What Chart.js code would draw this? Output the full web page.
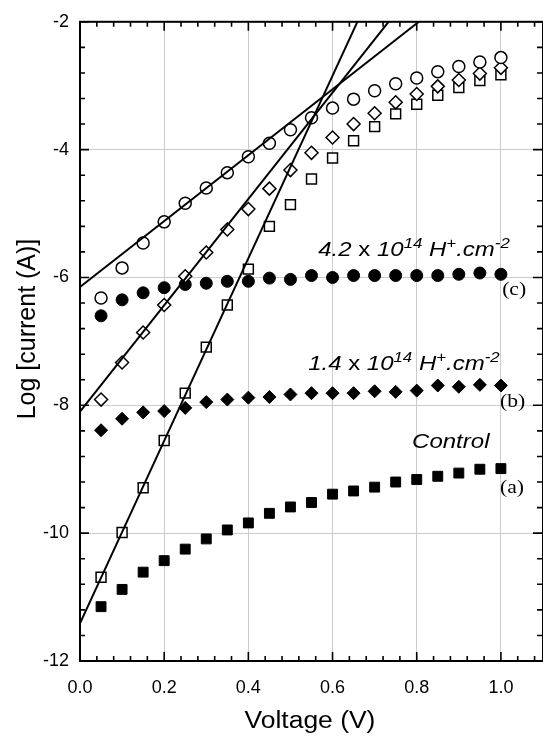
<!DOCTYPE html>
<html>
<head>
<meta charset="utf-8">
<script src="https://cdn.jsdelivr.net/npm/chart.js@4.4.0/dist/chart.umd.min.js"></script>
<style>
  html, body { margin: 0; padding: 0; background: #fff; }
</style>
</head>
<body>
<canvas id="ivCanvas" width="543" height="737"></canvas>
<script>
// Voltage sweep (V)
const voltage = [0.05, 0.10, 0.15, 0.20, 0.25, 0.30, 0.35, 0.40, 0.45, 0.50,
                 0.55, 0.60, 0.65, 0.70, 0.75, 0.80, 0.85, 0.90, 0.95, 1.00];

// Log current, open markers
const openCircle  = [-6.32, -5.85, -5.46, -5.13, -4.84, -4.60, -4.36, -4.11, -3.90, -3.69,
                     -3.50, -3.35, -3.21, -3.08, -2.97, -2.88, -2.78, -2.70, -2.63, -2.56];
const openDiamond = [-7.91, -7.33, -6.86, -6.43, -5.98, -5.61, -5.25, -4.93, -4.61, -4.32,
                     -4.05, -3.81, -3.60, -3.43, -3.26, -3.13, -3.01, -2.91, -2.81, -2.72];
const openSquare  = [-10.69, -9.99, -9.29, -8.55, -7.81, -7.09, -6.43, -5.87, -5.20, -4.86,
                     -4.46, -4.13, -3.86, -3.64, -3.44, -3.29, -3.15, -3.03, -2.92, -2.83];

// Log current, filled markers
const dose42 = [-6.60, -6.35, -6.24, -6.16, -6.11, -6.09, -6.06, -6.06, -6.01, -6.03,
                -5.97, -6.00, -5.97, -5.97, -5.97, -5.97, -5.97, -5.95, -5.93, -5.95];
const dose14 = [-8.39, -8.21, -8.11, -8.09, -8.04, -7.95, -7.91, -7.88, -7.87, -7.83,
                -7.81, -7.81, -7.81, -7.78, -7.79, -7.77, -7.69, -7.71, -7.68, -7.69];
const control = [-11.15, -10.88, -10.61, -10.43, -10.25, -10.09, -9.95, -9.84, -9.69, -9.59,
                 -9.52, -9.39, -9.34, -9.28, -9.20, -9.16, -9.11, -9.06, -9.00, -8.99];

// Fitted straight lines (end points)
const fitCircle  = [[0, -6.15], [0.805, -2]];
const fitDiamond = [[0, -8.10], [0.733, -2]];
const fitSquare  = [[0, -11.41], [0.659, -2]];

// Axis ticks
const xTickStep = 0.2, xMinorStep = 0.04;
const yTickStep = 2, yMinorStep = 0.4;

// Annotation labels: [x, y, pieces]
const labels = [
  [0.566, -5.66, [['4.2 ', 'i'], ['x', 'n'], [' 10', 'i'], ['14', 's'], [' H', 'i'], ['+', 's'], ['.cm', 'i'], ['-2', 's']]],
  [0.542, -7.45, [['1.4 ', 'i'], ['x', 'n'], [' 10', 'i'], ['14', 's'], [' H', 'i'], ['+', 's'], ['.cm', 'i'], ['-2', 's']]],
  [0.789, -8.66, [['Control', 'i']]],
  [1.003, -6.28, [['(c)', 'r']]],
  [0.998, -8.03, [['(b)', 'r']]],
  [0.998, -9.375, [['(a)', 'r']]]
];

function pts(ys) {
  return voltage.map((v, i) => ({ x: v, y: ys[i] }));
}
function linePts(seg) {
  return seg.map(p => ({ x: p[0], y: p[1] }));
}

// the text in the original is a bit wide, so stretch it sideways
const STRETCH = 1.2;

// frame, inward ticks on all four sides, titles and text labels
const framePlugin = {
  id: 'frame',
  afterDatasetsDraw(chart) {
    const ctx = chart.ctx;
    const a = chart.chartArea;
    const xs = chart.scales.x, ys = chart.scales.y;
    ctx.save();
    ctx.strokeStyle = '#000';
    ctx.lineWidth = 2;
    ctx.strokeRect(a.left, a.top, a.right - a.left, a.bottom - a.top);

    ctx.lineWidth = 1.6;
    ctx.beginPath();
    for (let k = 0; k * xMinorStep <= xs.max + 1e-9; k++) {
      const v = k * xMinorStep;
      const px = xs.getPixelForValue(v);
      const major = Math.abs(v / xTickStep - Math.round(v / xTickStep)) < 1e-6;
      const len = major ? 9 : 5;
      ctx.moveTo(px, a.bottom); ctx.lineTo(px, a.bottom - len);
      ctx.moveTo(px, a.top); ctx.lineTo(px, a.top + len);
    }
    for (let k = 0; ys.min + k * yMinorStep <= ys.max + 1e-9; k++) {
      const v = ys.min + k * yMinorStep;
      const py = ys.getPixelForValue(v);
      const major = Math.abs(v / yTickStep - Math.round(v / yTickStep)) < 1e-6;
      const len = major ? 9 : 5;
      ctx.moveTo(a.left, py); ctx.lineTo(a.left + len, py);
      ctx.moveTo(a.right - 1, py); ctx.lineTo(a.right - 1 - len, py);
    }
    ctx.stroke();

    // axis titles
    ctx.fillStyle = '#000';
    ctx.textBaseline = 'alphabetic';
    ctx.textAlign = 'center';
    ctx.save();
    ctx.translate(310, 728);
    ctx.scale(1.15, 1);
    ctx.font = '23px "Liberation Sans", Arial, sans-serif';
    ctx.fillText('Voltage (V)', 0, 0);
    ctx.restore();
    ctx.save();
    ctx.translate(35, 329);
    ctx.rotate(-Math.PI / 2);
    ctx.font = '25px "Liberation Sans", Arial, sans-serif';
    ctx.fillText('Log [current (A)]', 0, 0);
    ctx.restore();

    // text labels
    ctx.textAlign = 'left';
    labels.forEach(([lx, ly, parts]) => {
      ctx.save();
      ctx.translate(xs.getPixelForValue(lx), ys.getPixelForValue(ly));
      ctx.scale(STRETCH, 1);
      let px = 0;
      parts.forEach(([t, kind]) => {
        let dy = 0;
        if (kind === 'i') ctx.font = 'italic 20px "Liberation Sans", Arial, sans-serif';
        else if (kind === 'n') ctx.font = '20px "Liberation Sans", Arial, sans-serif';
        else if (kind === 's') { ctx.font = 'italic 14px "Liberation Sans", Arial, sans-serif'; dy = -8; }
        else ctx.font = '18px "Liberation Serif", "Times New Roman", serif';
        ctx.fillText(t, px, dy);
        px += ctx.measureText(t).width;
      });
      ctx.restore();
    });
    ctx.restore();
  }
};

const openStyle = { backgroundColor: '#fff', borderColor: '#000', pointBorderWidth: 1.5 };
const fillStyle = { backgroundColor: '#000', borderColor: '#000', pointBorderWidth: 1 };

const ivCtx = document.getElementById('ivCanvas').getContext('2d');
const ivChart = new Chart(ivCtx, {
  type: 'scatter',
  data: {
    datasets: [
      { label: 'fit circle', data: linePts(fitCircle), showLine: true, borderColor: '#000', borderWidth: 2, pointRadius: 0 },
      { label: 'fit diamond', data: linePts(fitDiamond), showLine: true, borderColor: '#000', borderWidth: 2, pointRadius: 0 },
      { label: 'fit square', data: linePts(fitSquare), showLine: true, borderColor: '#000', borderWidth: 2, pointRadius: 0 },
      Object.assign({ label: 'open circle', data: pts(openCircle), pointStyle: 'circle', pointRadius: 6 }, openStyle),
      Object.assign({ label: 'open diamond', data: pts(openDiamond), pointStyle: 'rectRot', pointRadius: 6.5 }, openStyle),
      Object.assign({ label: 'open square', data: pts(openSquare), pointStyle: 'rect', pointRadius: 7 }, openStyle),
      Object.assign({ label: '4.2e14', data: pts(dose42), pointStyle: 'circle', pointRadius: 6 }, fillStyle),
      Object.assign({ label: '1.4e14', data: pts(dose14), pointStyle: 'rectRot', pointRadius: 6.5 }, fillStyle),
      Object.assign({ label: 'Control', data: pts(control), pointStyle: 'rect', pointRadius: 7 }, fillStyle)
    ]
  },
  options: {
    responsive: false,
    animation: false,
    layout: { autoPadding: false, padding: { top: 21, right: 0, left: 0, bottom: 0 } },
    plugins: { legend: { display: false }, tooltip: { enabled: false } },
    scales: {
      x: {
        type: 'linear', min: 0, max: 1.1,
        afterFit(scale) { scale.height = 76; scale.paddingLeft = 0; scale.paddingRight = 0; },
        grid: { color: '#cccccc', lineWidth: 1, drawTicks: false },
        border: { display: false },
        ticks: {
          stepSize: xTickStep, includeBounds: false, padding: 16, color: '#000',
          font: { family: '"Liberation Sans", Arial, sans-serif', size: 18 },
          callback: v => v.toFixed(1)
        }
      },
      y: {
        type: 'linear', min: -12, max: -2,
        afterFit(scale) { scale.width = 80; },
        grid: { color: '#cccccc', lineWidth: 1, drawTicks: false },
        border: { display: false },
        ticks: {
          stepSize: yTickStep, padding: 11, color: '#000',
          font: { family: '"Liberation Sans", Arial, sans-serif', size: 18 }
        }
      }
    }
  },
  plugins: [framePlugin]
});
</script>
</body>
</html>
